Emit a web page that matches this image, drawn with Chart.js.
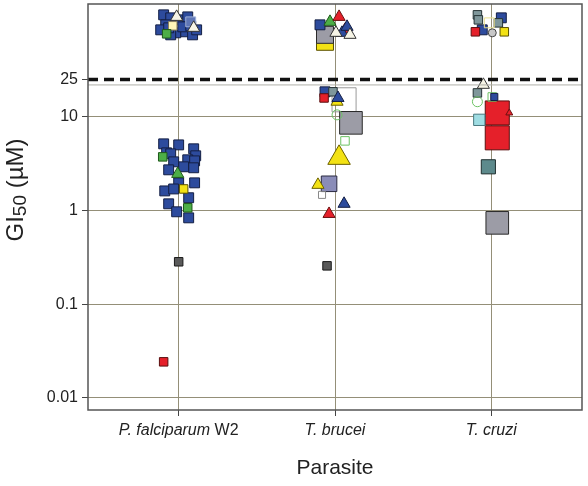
<!DOCTYPE html>
<html>
<head>
<meta charset="utf-8">
<script src="https://cdn.jsdelivr.net/npm/chart.js@4.4.1/dist/chart.umd.min.js"></script>
<style>
  html, body { margin: 0; padding: 0; background: #fff; }
  #wrap { width: 588px; height: 486px; position: relative; }
</style>
</head>
<body>
<div id="wrap"><canvas id="chart"></canvas></div>
<script>
const categories = ['P. falciparum W2', 'T. brucei', 'T. cruzi']
const yTicks = [0.01, 0.1, 1, 10, 25]
const cutoff = 25
const cutoffShadow = 21.9

// each point: [category, sideways jitter, GI50 in µM]
const blueSquares = [
  [1, -0.096, 122.6], [1, -0.051, 113.9], [1, -0.083, 95.9], [1, 0.013, 108.4], [1, 0.058, 116.6],
  [1, -0.115, 84.8], [1, -0.019, 78.8], [1, 0.045, 80.8], [1, 0.089, 75.0], [1, -0.051, 75.0],
  [1, 0.026, 91.3], [1, 0.115, 84.8], [1, -0.064, 89.1], [1, 0.077, 93.6],
  [1, -0.096, 5.15], [1, 0, 5.02], [1, -0.077, 4.13], [1, -0.051, 4.03], [1, 0.096, 4.56],
  [1, 0.109, 3.84], [1, 0.058, 3.48], [1, 0.102, 3.39], [1, -0.032, 3.31], [1, 0.032, 2.93],
  [1, 0.096, 2.86], [1, -0.064, 2.72], [1, 0, 1.975], [1, 0.102, 1.975], [1, -0.089, 1.62],
  [1, -0.032, 1.70], [1, 0.064, 1.37], [1, -0.064, 1.18], [1, -0.013, 0.97], [1, 0.064, 0.836],
  [2, -0.096, 95.9], [2, -0.064, 18.5],
  [3, 0.064, 113.9], [3, -0.058, 84.8]
]
const blueSquaresSmall = [[3, 0.019, 16.3]]
const redSquares = [[1, -0.096, 0.0243], [2, -0.070, 15.9], [3, -0.102, 80.8]]
const redSquaresBig = [[3, 0.038, 11.0], [3, 0.038, 5.97]]
const redTriangles = [[2, 0.026, 116.6], [2, 0.064, 84.8], [2, -0.038, 0.92]]
const redTrianglesSmall = [[3, 0.115, 11.0]]
const yellowSquares = [[1, 0.032, 1.70], [3, 0.083, 80.8]]
const yellowSquaresBig = [[2, -0.064, 63.2]]
const yellowTriangles = [[2, 0.013, 14.5], [2, -0.109, 1.88]]
const yellowTrianglesBig = [[2, 0.026, 3.65]]
const greenSquares = [[1, -0.077, 76.9], [1, -0.102, 3.74], [1, 0.058, 1.07]]
const greenTriangles = [[1, -0.006, 2.46], [2, -0.032, 103.2]]
const greenOpenSquares = [[2, 0.064, 5.54], [3, 0.006, 16.3]]
const greenOpenCircles = [[2, 0.013, 10.5], [3, -0.089, 14.5]]
const graySquaresBig = [[2, 0.102, 8.63], [3, 0.038, 0.739]]
const graySquaresMid = [[2, -0.064, 75.0]]
const lavenderSquares = [[2, -0.038, 1.93]]
const darkGraySquares = [[1, 0, 0.284], [2, -0.051, 0.257]]
const tealGraySquares = [[2, -0.013, 18.5], [3, -0.089, 18.0], [3, -0.089, 122.6], [3, -0.083, 108.4], [3, 0.045, 100.7]]
const tealSquares = [[3, -0.019, 2.93]]
const cyanSquares = [[3, -0.077, 9.29]]
const openGraySquaresBig = [[2, 0.058, 15.2]]
const openGraySquaresSmall = [[2, -0.083, 1.47]]
const creamSquares = [[1, -0.038, 93.6]]
const steelSquares = [[1, 0.077, 103.2]]
const creamOpenSquares = [[3, -0.013, 100.7]]
const whiteTriangles = [[1, -0.013, 116.6], [1, 0.096, 89.1], [2, 0.006, 78.8], [2, 0.096, 75.0], [3, -0.051, 21.96]]
const blueTriangles = [[2, 0.045, 78.8], [2, 0.077, 91.3], [2, 0.019, 15.9], [2, 0.058, 1.18]]
const grayCircles = [[3, 0.006, 78.8]]

const xMin = 0.42, xMax = 3.58
const FONT = '"Liberation Sans", Arial, sans-serif'

function marks(points, pointStyle, radius, fill, border, width = 1) {
  return {
    type: 'scatter',
    data: points.map(([c, dx, v]) => ({ x: c + dx, y: v })),
    pointStyle,
    pointRadius: radius,
    pointHoverRadius: radius,
    backgroundColor: fill,
    borderColor: border,
    borderWidth: width
  }
}

function hline(value, color, width, dash) {
  return {
    type: 'line',
    data: [{ x: xMin, y: value }, { x: xMax, y: value }],
    borderColor: color,
    borderWidth: width,
    borderDash: dash,
    pointRadius: 0
  }
}

// first in list ends up on top
const datasets = [
  hline(cutoff, '#111', 3.5, [10, 6]),
  hline(cutoffShadow, '#b0b0a8', 1, []),
  marks(redTrianglesSmall, 'triangle', 4, '#e5202a', '#6a1010'),
  marks(whiteTriangles, 'triangle', 7, '#f6f4e6', '#333'),
  marks(blueTriangles, 'triangle', 7, '#2d4b9d', '#141f44'),
  marks(redTriangles, 'triangle', 7, '#e5202a', '#6a1010'),
  marks(yellowTriangles, 'triangle', 7, '#f3e214', '#6b6000'),
  marks(greenTriangles, 'triangle', 7, '#4dae47', '#1e5a1a'),
  marks(grayCircles, 'circle', 4, '#c8c8c8', '#444'),
  marks(greenOpenCircles, 'circle', 5, 'rgba(0,0,0,0)', '#6cc264'),
  marks(blueSquaresSmall, 'rect', 5, '#2d4b9d', '#141f44'),
  marks(greenOpenSquares, 'rect', 6, 'rgba(0,0,0,0)', '#6cc264'),
  marks(openGraySquaresSmall, 'rect', 5, 'rgba(0,0,0,0)', '#888'),
  marks(creamOpenSquares, 'rect', 7, 'rgba(0,0,0,0)', '#e8e090'),
  marks(yellowSquares, 'rect', 6, '#f3e214', '#5a5000'),
  marks(greenSquares, 'rect', 6, '#4dae47', '#1e5a1a'),
  marks(creamSquares, 'rect', 6, '#fff6b8', '#8a8060'),
  marks(steelSquares, 'rect', 7, '#5f76b6', '#9fb0d8'),
  marks(redSquares, 'rect', 6, '#e5202a', '#5a1010'),
  marks(darkGraySquares, 'rect', 6, '#5a5a5a', '#1a1a1a'),
  marks(tealGraySquares, 'rect', 6, '#7f979b', '#263436'),
  marks(blueSquares, 'rect', 7, '#2d4b9d', '#141f44'),
  marks(cyanSquares, 'rect', 8, '#9fdde3', '#4a7a80'),
  marks(tealSquares, 'rect', 10, '#5d8a8c', '#203030'),
  marks(lavenderSquares, 'rect', 11, '#8a8cb8', '#2a2a40'),
  marks(graySquaresMid, 'rect', 12, '#9c9ca6', '#2a2a2a'),
  marks(yellowSquaresBig, 'rect', 12, '#f3e214', '#5a5000'),
  marks(yellowTrianglesBig, 'triangle', 13, '#f3e214', '#6b6000'),
  marks(redSquaresBig, 'rect', 17, '#e5202a', '#5a1010'),
  marks(graySquaresBig, 'rect', 16, '#9c9ca6', '#2a2a2a'),
  marks(openGraySquaresBig, 'rect', 17, 'rgba(0,0,0,0)', '#999')
]

const frame = {
  id: 'frame',
  afterDatasetsDraw(chart) {
    const { ctx, chartArea: a } = chart
    ctx.save()
    ctx.strokeStyle = '#555'
    ctx.lineWidth = 1.5
    ctx.strokeRect(a.left, a.top, a.right - a.left, a.bottom - a.top)
    ctx.restore()
  }
}

const xLabels = {
  id: 'xLabels',
  afterDraw(chart) {
    const { ctx, chartArea } = chart
    const x = chart.scales.x
    const y = chartArea.bottom + 21
    ctx.save()
    ctx.fillStyle = '#222'
    ctx.textBaseline = 'middle'
    categories.forEach((name, i) => {
      const words = name.split(' ').map(w => ({
        w, font: (/^[A-Z]\d+$/.test(w) ? '' : 'italic ') + '16px ' + FONT
      }))
      let total = 0
      words.forEach((p, k) => {
        ctx.font = p.font
        p.width = ctx.measureText(p.w).width
        p.space = k ? ctx.measureText(' ').width : 0
        total += p.width + p.space
      })
      let px = x.getPixelForValue(i + 1) - total / 2
      words.forEach(p => {
        px += p.space
        ctx.font = p.font
        ctx.fillText(p.w, px, y)
        px += p.width
      })
    })
    ctx.restore()
  }
}

const yTitle = {
  id: 'yTitle',
  afterDraw(chart) {
    const { ctx } = chart
    const parts = [['GI', '24px ' + FONT, 0], ['50', '19px ' + FONT, 5], [' (µM)', '24px ' + FONT, 0]]
    ctx.save()
    ctx.translate(16, 190)
    ctx.rotate(-Math.PI / 2)
    ctx.fillStyle = '#222'
    ctx.textBaseline = 'middle'
    let total = 0
    parts.forEach(p => { ctx.font = p[1]; total += ctx.measureText(p[0]).width })
    let px = -total / 2
    parts.forEach(p => {
      ctx.font = p[1]
      ctx.fillText(p[0], px, p[2])
      px += ctx.measureText(p[0]).width
    })
    ctx.restore()
  }
}

new Chart(document.getElementById('chart'), {
  type: 'scatter',
  data: { datasets },
  plugins: [frame, xLabels, yTitle],
  options: {
    responsive: true,
    maintainAspectRatio: false,
    animation: false,
    layout: { autoPadding: false, padding: { top: 4, right: 6, left: 0, bottom: 0 } },
    plugins: { legend: { display: false }, tooltip: { enabled: false } },
    scales: {
      x: {
        type: 'linear',
        min: xMin,
        max: xMax,
        afterBuildTicks: s => { s.ticks = [1, 2, 3].map(v => ({ value: v })) },
        afterFit: s => { s.height = 76; s.paddingLeft = 0; s.paddingRight = 0 },
        ticks: { display: false },
        grid: { color: '#948f78', tickColor: '#444', tickLength: 6 },
        border: { display: false },
        title: {
          display: true,
          text: 'Parasite',
          color: '#222',
          font: { family: FONT, size: 21 },
          padding: { top: 0, bottom: 5 }
        }
      },
      y: {
        type: 'logarithmic',
        min: 0.00744,
        max: 160,
        afterBuildTicks: s => { s.ticks = yTicks.map(v => ({ value: v })) },
        afterFit: s => { s.width = 88; s.paddingTop = 0; s.paddingBottom = 0 },
        ticks: {
          color: '#222',
          padding: 4,
          font: { family: FONT, size: 16 },
          callback: v => String(v)
        },
        grid: {
          color: c => c.tick && c.tick.value === cutoff ? 'rgba(0,0,0,0)' : '#948f78',
          tickColor: '#444',
          tickLength: 6
        },
        border: { display: false }
      }
    }
  }
})
</script>
</body>
</html>
